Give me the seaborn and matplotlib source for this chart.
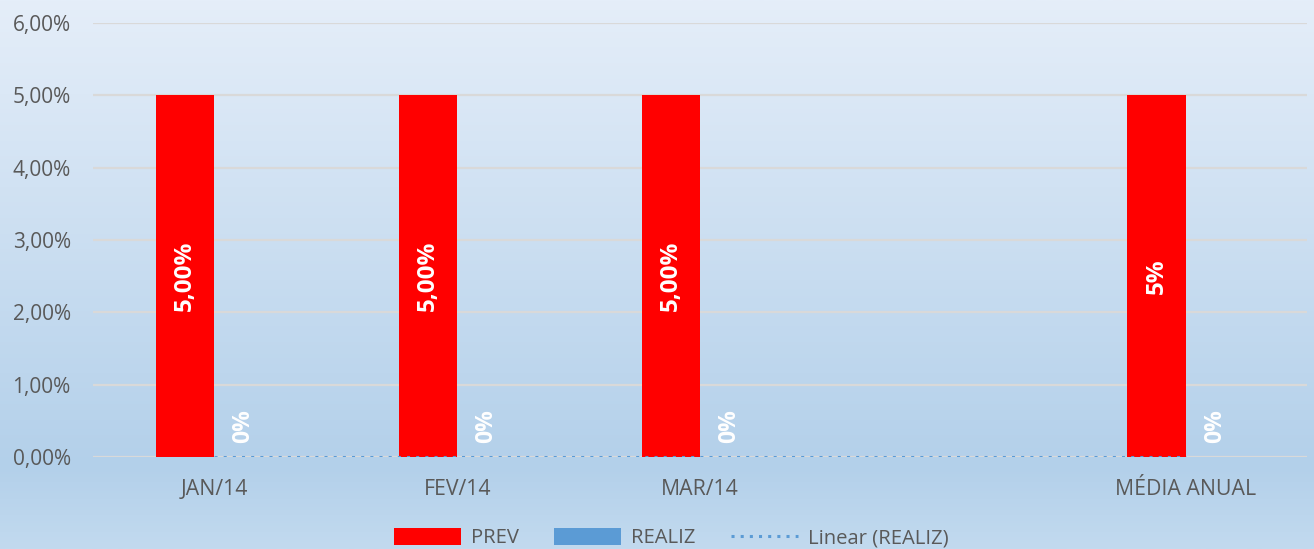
import matplotlib.pyplot as plt
import numpy as np
import pandas as pd
import seaborn as sns
from matplotlib.colors import LinearSegmentedColormap
from matplotlib.lines import Line2D
from matplotlib.patches import Patch

CATEGORIES = ["JAN/14", "FEV/14", "MAR/14", " ", "MÉDIA ANUAL"]
PREV = [5.0, 5.0, 5.0, np.nan, 5.0]
REALIZ = [0.0, 0.0, 0.0, np.nan, 0.0]
PREV_LABELS = ["5,00%", "5,00%", "5,00%", "5%"]
REALIZ_LABELS = ["0%", "0%", "0%", "0%"]
YTICKS = [0, 1, 2, 3, 4, 5, 6]

RED = "#ff0000"
BLUE = "#5b9bd5"
TXT = "#595959"
DOTS = (0, (1, 2.0))

sns.set_theme(style="white")
plt.rcParams["font.family"] = ["Open Sans", "DejaVu Sans"]

df = pd.DataFrame({"cat": CATEGORIES * 2,
                   "serie": ["PREV"] * 5 + ["REALIZ"] * 5,
                   "valor": PREV + REALIZ}).dropna()

fig = plt.figure(figsize=(13.14, 5.49), dpi=100)

# gradient background
bg = fig.add_axes([0, 0, 1, 1], zorder=-1)
cmap = LinearSegmentedColormap.from_list(
    "bg", [(0, "#e5eef9"), (0.85, "#b3d0ea"), (1.0, "#c2daef")])
bg.imshow(np.linspace(0, 1, 256).reshape(-1, 1), aspect="auto", cmap=cmap,
          extent=[0, 1, 0, 1], origin="upper")
bg.set_axis_off()

ax = fig.add_axes([0.0708, 0.1676, 0.9239, 0.7904])
ax.patch.set_alpha(0)
sns.barplot(data=df, x="cat", y="valor", hue="serie", order=CATEGORIES,
            palette={"PREV": RED, "REALIZ": BLUE}, width=0.48, ax=ax,
            legend=False, saturation=1, errorbar=None, linewidth=0, zorder=3)

prev_cont, realiz_cont = ax.containers[0], ax.containers[1]
ax.bar_label(prev_cont, labels=PREV_LABELS, label_type="center", rotation=90,
             color="white", fontsize=17.5, fontweight="bold")
ax.bar_label(realiz_cont, labels=REALIZ_LABELS, label_type="edge", rotation=90,
             color="white", fontsize=16.5, fontweight="bold", padding=10)

# linear trendline of REALIZ
xs = np.array([i for i, v in enumerate(REALIZ) if not np.isnan(v)])
ys = np.array([v for v in REALIZ if not np.isnan(v)])
k, b = np.polyfit(xs, ys, 1)
ax.plot([xs.min(), xs.max()], [k * xs.min() + b, k * xs.max() + b],
        color=BLUE, linestyle=DOTS, linewidth=2.2, zorder=5)

ax.set_xlim(-0.5, 4.5)
ax.set_ylim(0, 6)
ax.set_yticks(YTICKS)
ax.set_yticklabels([f"{v:.2f}%".replace(".", ",") for v in YTICKS])
ax.yaxis.grid(True, color="#d9d9d9", linewidth=1.6, zorder=0)
ax.set_axisbelow(True)
ax.tick_params(axis="y", length=0, pad=16, labelsize=15, labelcolor=TXT)
ax.tick_params(axis="x", length=0, pad=16, labelsize=15.3, labelcolor=TXT)
ax.set_xlabel("")
ax.set_ylabel("")
sns.despine(ax=ax, left=True, bottom=True)

handles = [Patch(facecolor=RED, linewidth=0), Patch(facecolor=BLUE, linewidth=0),
           Line2D([0], [0], color=BLUE, linestyle=DOTS, linewidth=2.2)]
fig.legend(handles, ["PREV", "REALIZ", "Linear (REALIZ)"], loc="center",
           bbox_to_anchor=(0.511, 0.02), ncol=3, frameon=False, fontsize=14.6,
           labelcolor=TXT, handlelength=3.3, handleheight=0.9,
           handletextpad=0.5, columnspacing=1.75)

fig.savefig("out.png", dpi=100)
